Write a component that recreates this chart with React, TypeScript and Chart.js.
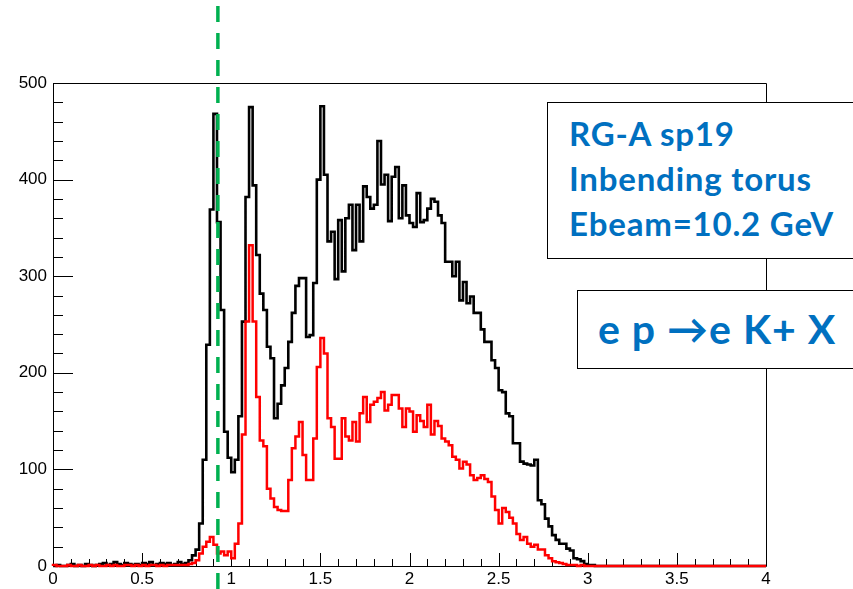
import React, { useEffect, useRef } from "react";
import { Chart, registerables } from "chart.js";

Chart.register(...registerables);

// ---- axis setup ----
const xMin = 0;
const xMax = 4;
const binWidth = 0.02;
const yMin = 0;
const yMax = 500;
const xTickLabels = ["0", "0.5", "1", "1.5", "2", "2.5", "3", "3.5", "4"];
const yTickLabels = ["0", "100", "200", "300", "400", "500"];
const markerX = 0.925; // green dashed marker

// ---- black histogram (all events), bins of 0.02 starting at 0 ----
const blackLow = [0, 0, 1, 0, 0, 1, 2, 0, 1, 0, 2, 1, 0, 1, 2, 3, 1, 2, 4, 2, 1, 3, 2, 1, 2, 1, 3, 2, 4, 1, 2, 3, 2, 3, 1, 2, 4];
const blackPeaks = [2, 3, 6, 11, 17, 44, 110, 229, 369, 468, 356, 265, 139, 112, 97, 110, 155, 253, 382, 475, 394, 322, 282, 265, 227, 215, 153, 168, 187, 205, 232, 262, 290, 298, 298, 237, 239, 293, 400, 476];
const blackBroad = [405, 336, 346, 297, 358, 305, 360, 374, 327, 374, 336, 393, 382, 370, 374, 440, 395, 405, 357, 403, 413, 360, 394, 363, 355, 351, 386, 356, 358, 370, 380, 377, 363, 355, 315, 315, 300, 315, 275, 294];
const blackFall = [272, 279, 262, 262, 245, 232, 232, 213, 205, 182, 180, 158, 155, 127, 127, 108, 106, 105, 104, 110, 68, 64, 49, 41, 32, 27, 23, 23, 18, 16, 8, 7, 5, 2, 1, 1];
const blackTail = [0, 0, 0, 0, 0, 0, 0, 0, 0, 0, 0, 0, 0, 0, 0, 0, 0, 0, 0, 0, 0, 0, 0, 0, 0, 0, 0, 0, 0, 0, 0, 0, 0, 0, 0, 0, 0, 0, 0, 0, 0, 0, 0, 0, 0, 0, 0];

// ---- red histogram (selected), same binning ----
const redLow = [0, 1, 0, 0, 0, 1, 0, 0, 1, 0, 0, 1, 0, 1, 0, 0, 1, 0, 1, 0, 0, 1, 1, 0, 1, 0, 1, 0, 1, 1, 0, 1, 0, 1, 1, 1, 1];
const redPeaks = [1, 1, 2, 3, 6, 13, 20, 25, 30, 22, 13, 15, 11, 15, 8, 23, 44, 136, 253, 332, 253, 175, 130, 124, 80, 70, 61, 58, 57, 57, 89, 122, 134, 149, 115, 89, 89, 132, 206, 236];
const redBroad = [220, 153, 144, 111, 111, 153, 134, 130, 149, 129, 158, 175, 149, 167, 170, 174, 180, 161, 167, 177, 177, 163, 144, 163, 160, 139, 156, 150, 144, 167, 136, 150, 145, 132, 129, 125, 113, 110, 101, 108];
const redFall = [105, 94, 89, 91, 94, 90, 87, 72, 58, 44, 60, 56, 50, 44, 33, 27, 30, 23, 20, 22, 17, 17, 11, 8, 5, 4, 3, 2, 1, 1, 1, 0, 1, 0, 0, 0];
const redTail = [0, 0, 0, 0, 0, 0, 0, 0, 0, 0, 0, 0, 0, 0, 0, 0, 0, 0, 0, 0, 0, 0, 0, 0, 0, 0, 0, 0, 0, 0, 0, 0, 0, 0, 0, 0, 0, 0, 0, 0, 0, 0, 0, 0, 0, 0, 0];

// ---- annotation text ----
const infoLines = ["RG-A sp19", "Inbending torus", "Ebeam=10.2 GeV"];
const reactionText = "e p \u2192e K+ X";

const blackCounts = [...blackLow, ...blackPeaks, ...blackBroad, ...blackFall, ...blackTail];
const redCounts = [...redLow, ...redPeaks, ...redBroad, ...redFall, ...redTail];

function toSteps(counts: number[]) {
  const pts = counts.map((c, i) => ({ x: xMin + i * binWidth, y: c }));
  pts.push({ x: xMax, y: counts[counts.length - 1] });
  return pts;
}

const LABEL_FONT = "'Liberation Sans', Arial, sans-serif";
const NOTE_FONT = "Lato, 'Open Sans', 'DejaVu Sans', sans-serif";
const BLUE = "#0070c0";

const rootFrame = {
  id: "rootFrame",
  beforeDatasetsDraw(chart: any) {
    const { ctx, chartArea, scales } = chart;
    const { left, right, top, bottom } = chartArea;
    const xs = scales.x;
    const ys = scales.y;
    ctx.save();
    ctx.strokeStyle = "#000";
    ctx.lineWidth = 1;
    ctx.beginPath();
    ctx.rect(Math.round(left) + 0.5, Math.round(top) + 0.5, Math.round(right - left), Math.round(bottom - top));
    ctx.stroke();
    ctx.beginPath();
    for (let i = 0; i <= 40; i++) {
      const v = xMin + i * 0.1;
      const px = Math.round(xs.getPixelForValue(v)) + 0.5;
      const len = i % 5 === 0 ? 13 : 7;
      ctx.moveTo(px, bottom);
      ctx.lineTo(px, bottom - len);
    }
    for (let i = 0; i <= 25; i++) {
      const v = yMin + i * 20;
      const py = Math.round(ys.getPixelForValue(v)) + 0.5;
      const len = i % 5 === 0 ? 20 : 10;
      ctx.moveTo(left, py);
      ctx.lineTo(left + len, py);
    }
    ctx.stroke();
    ctx.restore();
  },
  afterDatasetsDraw(chart: any) {
    const { ctx, scales } = chart;
    const px = scales.x.getPixelForValue(markerX);
    ctx.save();
    ctx.strokeStyle = "#00b050";
    ctx.lineWidth = 3.5;
    ctx.setLineDash([16, 11]);
    ctx.beginPath();
    ctx.moveTo(px, 6);
    ctx.lineTo(px, chart.height);
    ctx.stroke();
    ctx.restore();
  },
};

export default function App() {
  const canvasRef = useRef<HTMLCanvasElement | null>(null);

  useEffect(() => {
    const canvas = canvasRef.current;
    if (!canvas) return;
    const chart = new Chart(canvas, {
      type: "line",
      data: {
        datasets: [
          {
            label: "e K+ X",
            data: toSteps(redCounts),
            borderColor: "#ff0000",
            borderWidth: 2.5,
            stepped: "after",
            pointRadius: 0,
            fill: false,
            order: 0,
            clip: false,
          } as any,
          {
            label: "all",
            data: toSteps(blackCounts),
            borderColor: "#000000",
            borderWidth: 2.6,
            stepped: "after",
            pointRadius: 0,
            fill: false,
            order: 1,
            clip: false,
          } as any,
        ],
      },
      options: {
        animation: false,
        responsive: false,
        events: [],
        layout: { padding: { top: 83, right: 87, left: 0, bottom: 0 } },
        plugins: { legend: { display: false }, tooltip: { enabled: false } },
        scales: {
          x: {
            type: "linear",
            min: xMin,
            max: xMax,
            afterFit: (s: any) => {
              s.height = 23;
            },
            grid: { display: false, drawTicks: false },
            border: { display: false },
            ticks: {
              stepSize: 0.5,
              autoSkip: false,
              maxRotation: 0,
              padding: 3,
              color: "#000",
              font: { family: LABEL_FONT, size: 17 },
              callback: (v: any) => xTickLabels[Math.round((Number(v) - xMin) / 0.5)] ?? "",
            },
          },
          y: {
            type: "linear",
            min: yMin,
            max: yMax,
            afterFit: (s: any) => {
              s.width = 53;
            },
            grid: { display: false, drawTicks: false },
            border: { display: false },
            ticks: {
              stepSize: 100,
              padding: 6,
              color: "#000",
              font: { family: LABEL_FONT, size: 17 },
              callback: (v: any) => yTickLabels[Math.round((Number(v) - yMin) / 100)] ?? "",
            },
          },
        },
      },
      plugins: [rootFrame],
    });
    return () => chart.destroy();
  }, []);

  const lineStyle = (top: number, left: number, size: number, spacing: number): React.CSSProperties => ({
    position: "absolute",
    top,
    left,
    fontFamily: NOTE_FONT,
    fontWeight: 700,
    fontSize: size,
    lineHeight: 1.2,
    letterSpacing: spacing,
    color: BLUE,
    whiteSpace: "nowrap",
  });

  return (
    <div style={{ position: "absolute", left: 0, top: 0, width: 853, height: 589, background: "#fff", overflow: "hidden" }}>
      <canvas ref={canvasRef} width={853} height={589} style={{ position: "absolute", left: 0, top: 0 }} />
      <div
        style={{
          position: "absolute",
          left: 547,
          top: 102,
          width: 310,
          height: 157,
          boxSizing: "border-box",
          border: "1.5px solid #000",
          background: "#fff",
        }}
      />
      {infoLines.map((t, i) => (
        <div key={t} style={lineStyle(114 + i * 45, 569, 33, 0.8)}>
          {t}
        </div>
      ))}
      <div
        style={{
          position: "absolute",
          left: 577,
          top: 290,
          width: 280,
          height: 79,
          boxSizing: "border-box",
          border: "1.5px solid #000",
          background: "#fff",
        }}
      />
      <div style={lineStyle(304, 598, 41, 1)}>{reactionText}</div>
    </div>
  );
}
